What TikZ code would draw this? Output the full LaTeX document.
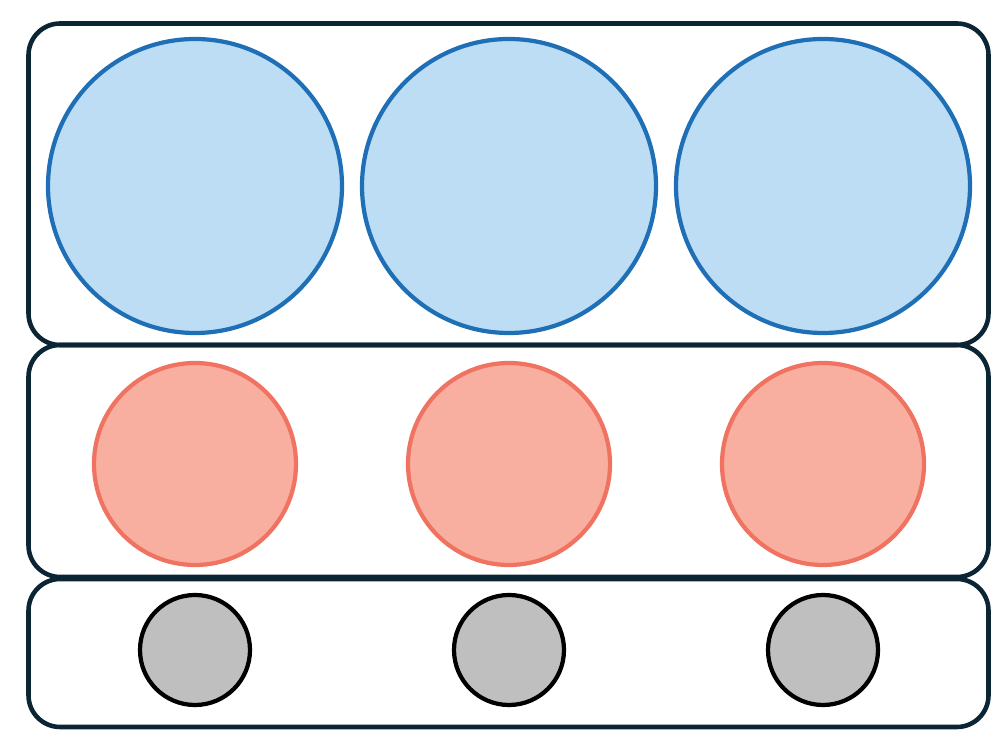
\documentclass[tikz,border=0pt]{standalone}
\usepackage{tikz}
\usetikzlibrary{positioning}
\definecolor{layerdark}{HTML}{0B2535}
\definecolor{bigblue}{HTML}{1F6FB6}
\definecolor{bigbluefill}{HTML}{BDDDF4}
\definecolor{midred}{HTML}{F07362}
\definecolor{midredfill}{HTML}{F8AFA0}
\definecolor{smallgray}{HTML}{BFBFBF}
\begin{document}
\begin{tikzpicture}[
    layer/.style={
        rectangle, draw=layerdark, line width=1.3pt,
        rounded corners=9pt, minimum width=9.6cm,
        inner sep=0pt
    },
    bigdot/.style={
        circle, draw=bigblue, fill=bigbluefill,
        line width=1.2pt, minimum size=2.94cm, inner sep=0pt
    },
    middot/.style={
        circle, draw=midred, fill=midredfill,
        line width=1.2pt, minimum size=2.02cm, inner sep=0pt
    },
    smalldot/.style={
        circle, draw=black, fill=smallgray,
        line width=1.2pt, minimum size=1.1cm, inner sep=0pt
    }
]
\useasboundingbox (0,0) rectangle (10.02,7.48);
\node[layer, minimum height=3.215cm] (top) at (5.085,5.6375) {};
\node[layer, minimum height=2.32cm]  (mid) at (5.085,2.87) {};
\node[layer, minimum height=1.48cm]  (bot) at (5.085,0.95) {};

\foreach \i/\x in {1/1.95, 2/5.09, 3/8.23} {
  \node[bigdot]   (big\i)   at (\x,5.62) {};
  \node[middot]   (mid\i)   at (\x,2.84) {};
  \node[smalldot] (small\i) at (\x,0.98) {};
}
\end{tikzpicture}
\end{document}
